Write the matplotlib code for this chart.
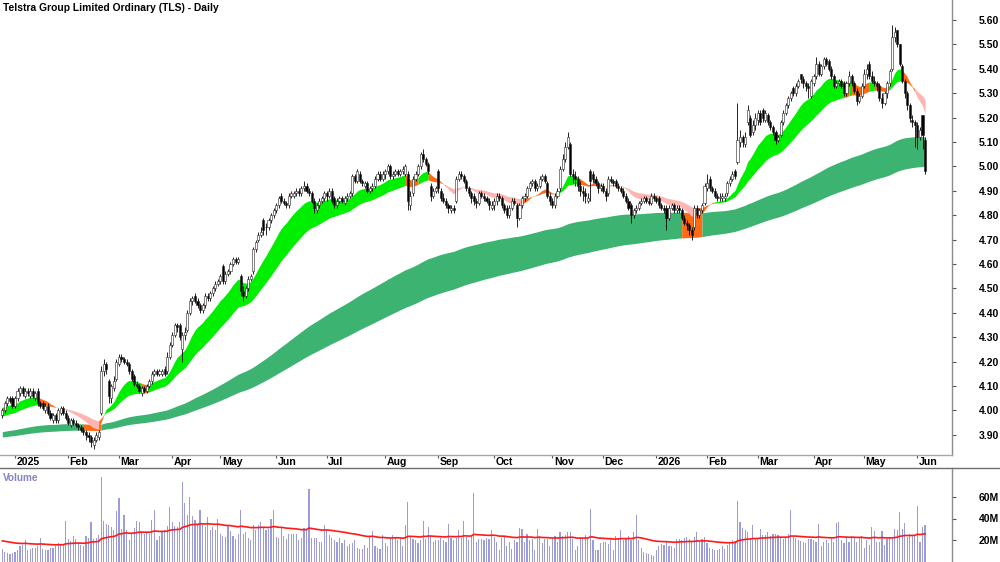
import numpy as np
import pandas as pd
import matplotlib
matplotlib.use("Agg")
import matplotlib.pyplot as plt
from matplotlib.lines import Line2D
from matplotlib.transforms import blended_transform_factory, ScaledTranslation

plt.rcParams['font.family'] = ['Liberation Sans', 'DejaVu Sans']

TITLE = "Telstra Group Limited Ordinary (TLS) - Daily"

# ---------------- trading calendar ----------------
holidays = ['2024-12-25', '2024-12-26', '2025-01-01', '2025-01-27', '2025-04-18',
            '2025-04-21', '2025-04-25', '2025-06-09', '2025-12-25', '2025-12-26',
            '2026-01-01', '2026-01-26', '2026-04-03', '2026-04-06']
all_days = pd.bdate_range('2024-12-23', '2026-06-04')
dates = all_days[~all_days.isin(pd.to_datetime(holidays))]

# ---------------- price data ----------------
open_ = [
    3.98, 4.00, 4.03, 4.05, 4.05,
    4.02, 4.05, 4.07, 4.09, 4.06, 4.08, 4.06, 4.08, 4.05, 4.08, 4.03, 4.03, 4.00, 4.02, 3.99, 3.96, 3.98, 3.96, 3.99, 4.01, 3.99,
    3.97, 3.94, 3.96, 3.95, 3.94, 3.93, 3.92, 3.91, 3.90, 3.89, 3.86, 3.88, 3.89, 3.99, 4.16, 4.19, 4.12, 4.05, 4.09, 4.13,
    4.19, 4.22, 4.21, 4.20, 4.19, 4.16, 4.14, 4.11, 4.10, 4.07, 4.09, 4.08, 4.10, 4.12, 4.15, 4.16, 4.15, 4.15, 4.17, 4.16, 4.22,
    4.27, 4.31, 4.35, 4.35, 4.25, 4.31, 4.33, 4.40, 4.45, 4.47, 4.45, 4.43, 4.41, 4.43, 4.47, 4.46, 4.48, 4.50, 4.52,
    4.53, 4.59, 4.53, 4.56, 4.57, 4.60, 4.62, 4.61, 4.55, 4.49, 4.47, 4.50, 4.54, 4.57, 4.66, 4.70, 4.72, 4.78, 4.75, 4.75, 4.78, 4.80,
    4.82, 4.84, 4.88, 4.86, 4.85, 4.84, 4.88, 4.88, 4.89, 4.90, 4.89, 4.91, 4.92, 4.90, 4.89, 4.86, 4.82, 4.84, 4.86, 4.87,
    4.89, 4.88, 4.90, 4.87, 4.84, 4.86, 4.87, 4.85, 4.87, 4.88, 4.89, 4.96, 4.94, 4.97, 4.94, 4.92, 4.93, 4.90, 4.91, 4.92, 4.95, 4.97, 4.95,
    4.97, 4.98, 5.00, 4.96, 4.97, 4.98, 4.97, 4.98, 4.97, 4.97, 4.84, 4.89, 4.95, 4.97, 5.00, 5.05, 5.03, 5.01, 4.92, 4.88, 4.90,
    4.98, 4.90, 4.87, 4.86, 4.84, 4.82, 4.83, 4.86, 4.95, 4.97, 4.96, 4.94, 4.91, 4.89, 4.88, 4.86, 4.85, 4.89, 4.88, 4.87, 4.86, 4.83,
    4.84, 4.86, 4.88, 4.87, 4.84, 4.83, 4.80, 4.83, 4.86, 4.84, 4.79, 4.84, 4.87, 4.88, 4.91, 4.93, 4.94, 4.91, 4.92, 4.95, 4.96, 4.93, 4.88,
    4.86, 4.84, 4.88, 4.91, 4.99, 5.03, 5.08, 5.09, 4.97, 4.96, 4.95, 4.92, 4.90, 4.89, 4.86, 4.98, 4.97, 4.95, 4.93, 4.91,
    4.92, 4.90, 4.89, 4.95, 4.94, 4.94, 4.92, 4.91, 4.90, 4.88, 4.86, 4.84, 4.80, 4.82, 4.83, 4.85, 4.86, 4.87, 4.86, 4.85, 4.88,
    4.87, 4.87, 4.84, 4.83, 4.83, 4.79, 4.83, 4.84, 4.82, 4.83, 4.82, 4.79, 4.77, 4.76, 4.74, 4.75, 4.83, 4.80, 4.82, 4.85,
    4.91, 4.95, 4.91, 4.90, 4.88, 4.87, 4.87, 4.87, 4.89, 4.93, 4.95, 4.98, 5.02, 5.10, 5.12, 5.09, 5.18, 5.20, 5.14, 5.17,
    5.19, 5.22, 5.23, 5.19, 5.21, 5.18, 5.16, 5.14, 5.11, 5.13, 5.18, 5.22, 5.25, 5.28, 5.32, 5.30, 5.33, 5.38, 5.36, 5.34, 5.33, 5.29,
    5.34, 5.37, 5.42, 5.38, 5.41, 5.44, 5.43, 5.40, 5.37, 5.33, 5.34, 5.35, 5.34, 5.30, 5.34, 5.37, 5.34, 5.31, 5.27, 5.29,
    5.33, 5.38, 5.42, 5.37, 5.35, 5.34, 5.33, 5.28, 5.26, 5.30, 5.34, 5.40, 5.53, 5.56, 5.50, 5.41, 5.35, 5.30, 5.25, 5.19, 5.18,
    5.17, 5.12, 5.21, 5.11,
]
high = [
    4.01, 4.04, 4.06, 4.06, 4.06,
    4.06, 4.09, 4.10, 4.10, 4.09, 4.09, 4.09, 4.09, 4.08, 4.09, 4.04, 4.04, 4.03, 4.03, 4.00, 3.99, 3.99, 4.01, 4.02, 4.02, 4.00,
    3.98, 3.97, 3.97, 3.96, 3.95, 3.94, 3.93, 3.92, 3.91, 3.90, 3.89, 3.91, 3.92, 4.18, 4.21, 4.20, 4.13, 4.11, 4.14, 4.21,
    4.23, 4.23, 4.22, 4.21, 4.20, 4.17, 4.15, 4.12, 4.11, 4.10, 4.10, 4.11, 4.13, 4.16, 4.17, 4.17, 4.17, 4.17, 4.18, 4.24, 4.28,
    4.32, 4.36, 4.36, 4.36, 4.32, 4.34, 4.41, 4.46, 4.47, 4.48, 4.46, 4.44, 4.44, 4.48, 4.48, 4.49, 4.51, 4.53, 4.54,
    4.56, 4.60, 4.57, 4.58, 4.61, 4.63, 4.63, 4.63, 4.56, 4.51, 4.51, 4.55, 4.56, 4.67, 4.70, 4.73, 4.75, 4.79, 4.77, 4.79, 4.81, 4.83,
    4.85, 4.88, 4.89, 4.87, 4.86, 4.89, 4.90, 4.90, 4.91, 4.91, 4.92, 4.94, 4.93, 4.91, 4.90, 4.87, 4.85, 4.87, 4.88, 4.90,
    4.90, 4.91, 4.91, 4.88, 4.87, 4.88, 4.88, 4.88, 4.89, 4.90, 4.97, 4.97, 4.99, 4.98, 4.95, 4.94, 4.94, 4.92, 4.93, 4.96, 4.98, 4.98, 4.98,
    4.99, 5.01, 5.01, 4.98, 4.99, 4.99, 4.99, 5.00, 5.01, 4.98, 4.90, 4.96, 4.98, 5.01, 5.06, 5.07, 5.04, 5.02, 4.93, 4.91, 4.92,
    4.99, 4.91, 4.89, 4.87, 4.85, 4.84, 4.84, 4.96, 4.98, 4.98, 4.97, 4.95, 4.92, 4.90, 4.89, 4.87, 4.90, 4.90, 4.89, 4.88, 4.87, 4.86,
    4.87, 4.89, 4.89, 4.88, 4.85, 4.84, 4.84, 4.87, 4.87, 4.85, 4.85, 4.88, 4.89, 4.92, 4.94, 4.95, 4.95, 4.93, 4.96, 4.97, 4.97, 4.94, 4.89,
    4.87, 4.89, 4.91, 5.00, 5.05, 5.10, 5.14, 5.10, 4.99, 4.98, 4.96, 4.94, 4.92, 4.91, 4.89, 4.99, 4.98, 4.96, 4.94, 4.93,
    4.93, 4.91, 4.96, 4.96, 4.95, 4.95, 4.93, 4.92, 4.91, 4.89, 4.87, 4.85, 4.83, 4.84, 4.86, 4.87, 4.88, 4.88, 4.87, 4.89, 4.89,
    4.88, 4.88, 4.85, 4.84, 4.84, 4.84, 4.85, 4.85, 4.84, 4.84, 4.83, 4.80, 4.78, 4.77, 4.75, 4.84, 4.84, 4.83, 4.85, 4.93,
    4.97, 4.96, 4.92, 4.91, 4.89, 4.89, 4.89, 4.89, 4.94, 4.96, 4.98, 4.99, 5.26, 5.15, 5.13, 5.14, 5.25, 5.21, 5.19, 5.22,
    5.23, 5.23, 5.24, 5.23, 5.22, 5.19, 5.17, 5.15, 5.13, 5.19, 5.23, 5.26, 5.29, 5.31, 5.33, 5.34, 5.36, 5.38, 5.37, 5.35, 5.34, 5.36,
    5.38, 5.45, 5.43, 5.42, 5.45, 5.45, 5.44, 5.41, 5.38, 5.35, 5.36, 5.36, 5.35, 5.35, 5.39, 5.38, 5.35, 5.32, 5.30, 5.34,
    5.40, 5.42, 5.43, 5.39, 5.37, 5.35, 5.34, 5.30, 5.31, 5.35, 5.40, 5.58, 5.57, 5.56, 5.50, 5.42, 5.36, 5.31, 5.26, 5.21, 5.19,
    5.18, 5.16, 5.21, 5.12,
]
low = [
    3.97, 3.99, 4.02, 4.03, 4.01,
    4.01, 4.04, 4.06, 4.06, 4.05, 4.06, 4.05, 4.05, 4.04, 4.02, 4.01, 4.00, 3.99, 3.98, 3.96, 3.95, 3.95, 3.95, 3.98, 3.98, 3.96,
    3.94, 3.93, 3.94, 3.93, 3.92, 3.91, 3.90, 3.88, 3.87, 3.85, 3.84, 3.87, 3.88, 3.98, 4.14, 4.15, 4.03, 4.03, 4.08, 4.12,
    4.18, 4.20, 4.19, 4.18, 4.15, 4.12, 4.10, 4.09, 4.07, 4.06, 4.07, 4.07, 4.09, 4.11, 4.14, 4.14, 4.14, 4.14, 4.14, 4.15, 4.21,
    4.26, 4.30, 4.32, 4.29, 4.20, 4.29, 4.32, 4.39, 4.43, 4.44, 4.42, 4.40, 4.40, 4.42, 4.45, 4.45, 4.47, 4.49, 4.51,
    4.52, 4.52, 4.52, 4.55, 4.56, 4.59, 4.60, 4.60, 4.47, 4.45, 4.46, 4.49, 4.53, 4.56, 4.65, 4.69, 4.71, 4.72, 4.72, 4.74, 4.77, 4.79,
    4.81, 4.83, 4.85, 4.84, 4.83, 4.83, 4.87, 4.87, 4.88, 4.88, 4.88, 4.90, 4.89, 4.88, 4.85, 4.81, 4.81, 4.83, 4.85, 4.86,
    4.86, 4.87, 4.85, 4.83, 4.83, 4.85, 4.85, 4.84, 4.86, 4.87, 4.88, 4.93, 4.93, 4.93, 4.92, 4.91, 4.89, 4.89, 4.90, 4.91, 4.94, 4.94, 4.94,
    4.95, 4.97, 4.95, 4.95, 4.96, 4.96, 4.96, 4.97, 4.96, 4.82, 4.82, 4.88, 4.94, 4.96, 4.99, 5.02, 5.00, 4.97, 4.86, 4.87, 4.89,
    4.89, 4.86, 4.85, 4.83, 4.81, 4.81, 4.81, 4.85, 4.94, 4.95, 4.93, 4.90, 4.88, 4.85, 4.84, 4.83, 4.84, 4.87, 4.86, 4.85, 4.82, 4.82,
    4.82, 4.84, 4.86, 4.83, 4.81, 4.79, 4.79, 4.82, 4.84, 4.75, 4.78, 4.83, 4.86, 4.87, 4.90, 4.92, 4.90, 4.90, 4.91, 4.94, 4.93, 4.87, 4.84,
    4.83, 4.83, 4.87, 4.90, 4.98, 5.02, 5.07, 4.96, 4.93, 4.92, 4.90, 4.88, 4.86, 4.85, 4.85, 4.86, 4.93, 4.92, 4.89, 4.90,
    4.89, 4.86, 4.88, 4.93, 4.92, 4.91, 4.90, 4.89, 4.87, 4.85, 4.82, 4.77, 4.79, 4.81, 4.82, 4.84, 4.85, 4.85, 4.84, 4.84, 4.86,
    4.85, 4.83, 4.82, 4.81, 4.74, 4.78, 4.82, 4.81, 4.81, 4.81, 4.78, 4.76, 4.74, 4.72, 4.70, 4.74, 4.79, 4.79, 4.81, 4.84,
    4.90, 4.90, 4.89, 4.87, 4.86, 4.86, 4.86, 4.86, 4.88, 4.92, 4.94, 4.95, 5.01, 5.08, 5.08, 5.08, 5.17, 5.12, 5.13, 5.15,
    5.17, 5.17, 5.18, 5.18, 5.17, 5.15, 5.13, 5.09, 5.10, 5.12, 5.17, 5.21, 5.24, 5.27, 5.29, 5.29, 5.32, 5.34, 5.32, 5.31, 5.28, 5.28,
    5.33, 5.36, 5.37, 5.37, 5.40, 5.41, 5.39, 5.36, 5.32, 5.32, 5.33, 5.32, 5.29, 5.29, 5.33, 5.33, 5.30, 5.25, 5.26, 5.28,
    5.32, 5.36, 5.36, 5.34, 5.33, 5.31, 5.27, 5.24, 5.25, 5.28, 5.33, 5.39, 5.51, 5.49, 5.41, 5.34, 5.28, 5.23, 5.18, 5.16, 5.08,
    5.07, 5.11, 5.07, 4.97,
]
close = [
    4.00, 4.03, 4.05, 4.04, 4.02,
    4.05, 4.08, 4.09, 4.07, 4.08, 4.07, 4.08, 4.06, 4.07, 4.03, 4.02, 4.01, 4.02, 3.99, 3.97, 3.98, 3.96, 4.00, 4.01, 3.99, 3.97,
    3.95, 3.96, 3.95, 3.94, 3.93, 3.92, 3.91, 3.90, 3.89, 3.87, 3.88, 3.90, 3.91, 4.16, 4.19, 4.17, 4.06, 4.10, 4.12, 4.20,
    4.22, 4.21, 4.20, 4.19, 4.16, 4.13, 4.11, 4.10, 4.08, 4.09, 4.08, 4.10, 4.12, 4.15, 4.16, 4.15, 4.16, 4.16, 4.15, 4.22, 4.27,
    4.31, 4.35, 4.34, 4.30, 4.31, 4.32, 4.40, 4.45, 4.46, 4.45, 4.43, 4.41, 4.43, 4.47, 4.46, 4.48, 4.50, 4.52, 4.53,
    4.55, 4.53, 4.56, 4.57, 4.60, 4.62, 4.61, 4.62, 4.49, 4.47, 4.50, 4.54, 4.55, 4.66, 4.69, 4.72, 4.73, 4.74, 4.75, 4.78, 4.80, 4.82,
    4.84, 4.87, 4.86, 4.85, 4.84, 4.88, 4.89, 4.89, 4.90, 4.89, 4.91, 4.92, 4.90, 4.89, 4.86, 4.83, 4.84, 4.86, 4.87, 4.89,
    4.88, 4.90, 4.86, 4.84, 4.86, 4.87, 4.86, 4.87, 4.88, 4.89, 4.96, 4.94, 4.98, 4.94, 4.93, 4.93, 4.90, 4.91, 4.92, 4.95, 4.97, 4.95, 4.97,
    4.98, 5.00, 4.96, 4.97, 4.98, 4.97, 4.98, 4.99, 5.00, 4.86, 4.88, 4.95, 4.97, 5.00, 5.05, 5.03, 5.01, 4.98, 4.88, 4.90, 4.91,
    4.91, 4.87, 4.86, 4.84, 4.83, 4.83, 4.82, 4.95, 4.97, 4.96, 4.94, 4.91, 4.89, 4.87, 4.86, 4.85, 4.89, 4.88, 4.87, 4.86, 4.84, 4.84,
    4.86, 4.88, 4.87, 4.84, 4.82, 4.80, 4.83, 4.86, 4.85, 4.79, 4.84, 4.87, 4.88, 4.91, 4.93, 4.94, 4.91, 4.92, 4.95, 4.96, 4.94, 4.88, 4.86,
    4.84, 4.88, 4.90, 4.99, 5.03, 5.08, 5.12, 4.97, 4.96, 4.95, 4.92, 4.90, 4.89, 4.88, 4.87, 4.94, 4.95, 4.93, 4.91, 4.92,
    4.90, 4.88, 4.95, 4.94, 4.93, 4.92, 4.91, 4.90, 4.88, 4.86, 4.83, 4.80, 4.82, 4.83, 4.85, 4.86, 4.87, 4.86, 4.85, 4.88, 4.87,
    4.86, 4.84, 4.83, 4.82, 4.79, 4.83, 4.84, 4.82, 4.83, 4.82, 4.79, 4.77, 4.76, 4.74, 4.72, 4.83, 4.80, 4.82, 4.84, 4.92,
    4.93, 4.91, 4.90, 4.88, 4.87, 4.87, 4.88, 4.88, 4.93, 4.95, 4.97, 4.96, 5.11, 5.12, 5.10, 5.12, 5.23, 5.13, 5.17, 5.20,
    5.22, 5.18, 5.20, 5.22, 5.18, 5.16, 5.14, 5.11, 5.12, 5.18, 5.22, 5.25, 5.28, 5.30, 5.30, 5.33, 5.35, 5.36, 5.34, 5.33, 5.32, 5.35,
    5.37, 5.42, 5.38, 5.41, 5.44, 5.42, 5.40, 5.37, 5.33, 5.34, 5.35, 5.33, 5.30, 5.34, 5.37, 5.34, 5.31, 5.27, 5.29, 5.33,
    5.38, 5.40, 5.37, 5.35, 5.34, 5.33, 5.28, 5.26, 5.30, 5.34, 5.39, 5.53, 5.55, 5.50, 5.42, 5.35, 5.30, 5.25, 5.20, 5.18, 5.17,
    5.12, 5.15, 5.13, 4.98,
]
# volume in millions of shares
volume = [
    12, 9, 8, 7, 8,
    9, 11, 14, 15, 20, 11, 12, 13, 13, 14, 22, 12, 11, 11, 13, 13, 14, 17, 16, 15, 38,
    21, 19, 24, 21, 17, 15, 14, 24, 22, 37, 21, 22, 25, 79, 38, 35, 34, 32, 29, 47,
    59, 30, 43, 29, 20, 26, 31, 38, 37, 28, 26, 27, 26, 39, 48, 20, 24, 28, 29, 33, 51,
    37, 33, 32, 37, 74, 54, 43, 60, 42, 39, 35, 48, 34, 32, 41, 29, 32, 29, 40,
    26, 24, 23, 33, 28, 24, 21, 26, 48, 26, 27, 22, 20, 34, 29, 34, 37, 32, 29, 30, 40, 48,
    23, 22, 31, 24, 21, 26, 26, 26, 26, 20, 22, 31, 29, 67, 22, 22, 22, 18, 18, 34,
    29, 25, 22, 20, 18, 22, 17, 20, 14, 16, 17, 20, 13, 12, 12, 15, 13, 23, 28, 14, 13, 12, 25,
    17, 14, 22, 25, 23, 20, 22, 14, 34, 55, 23, 21, 20, 17, 20, 38, 21, 32, 24, 18, 20,
    20, 22, 20, 18, 35, 22, 20, 22, 29, 22, 38, 23, 20, 25, 64, 18, 21, 21, 20, 22, 21, 29,
    23, 18, 11, 22, 23, 14, 18, 12, 20, 18, 31, 30, 18, 26, 20, 21, 11, 30, 24, 17, 21, 21, 14,
    21, 24, 18, 27, 24, 25, 27, 27, 21, 11, 14, 23, 21, 25, 21, 49, 20, 11, 11, 17,
    18, 18, 16, 22, 11, 24, 22, 29, 20, 22, 24, 20, 27, 43, 20, 13, 9, 8, 7, 6, 5,
    11, 14, 16, 15, 18, 14, 14, 13, 21, 21, 20, 22, 23, 21, 18, 23, 27, 18, 21, 23,
    17, 13, 12, 11, 11, 12, 14, 12, 15, 18, 20, 19, 56, 37, 31, 29, 27, 22, 34, 22,
    22, 30, 25, 25, 27, 24, 26, 26, 25, 22, 21, 23, 26, 48, 23, 22, 20, 19, 18, 17, 21, 21,
    20, 18, 35, 14, 18, 20, 17, 23, 18, 36, 37, 20, 17, 23, 18, 24, 22, 18, 23, 24,
    13, 20, 15, 32, 28, 18, 18, 28, 15, 21, 22, 23, 30, 29, 46, 30, 36, 23, 26, 25, 25,
    52, 18, 32, 34,
]

short_periods = (15, 35)
short_seeds = (4.015, 3.975)
long_periods = (150, 230)
long_seeds = (3.912, 3.890)
vol_ma_span = 50
vol_ma_seed = 19.5

# Band colour states (bar index ranges)
short_band_states = [
    (0, 14, 'up'), (14, 24, 'mixed'), (24, 38, 'down'), (38, 40, 'mixed'),
    (40, 55, 'up'), (55, 57, 'mixed'), (57, 159, 'up'), (159, 164, 'mixed'),
    (164, 168, 'up'), (168, 175, 'mixed'), (175, 205, 'down'), (205, 218, 'mixed'),
    (218, 227, 'up'), (227, 245, 'mixed'), (245, 275, 'down'), (275, 281, 'mixed'),
    (281, 332, 'up'), (332, 334, 'mixed'), (334, 335, 'up'), (335, 342, 'mixed'),
    (342, 344, 'up'), (344, 350, 'mixed'), (350, 355, 'up'), (355, 360, 'mixed'),
    (360, 364, 'down'),
]
long_band_states = [
    (0, 32, 'up'), (32, 39, 'mixed'), (39, 268, 'up'), (268, 276, 'mixed'), (276, 364, 'up'),
]

# ---------------- prepare ----------------
n = min(len(dates), len(open_), len(high), len(low), len(close), len(volume))
dates = dates[:n]
o = np.array(open_[:n]); h = np.array(high[:n]); l = np.array(low[:n]); c = np.array(close[:n])
v = np.array(volume[:n], dtype=float)
x = np.arange(n)


def ema(values, period, seed):
    a = 2.0 / (period + 1)
    out = np.empty(len(values))
    prev = seed
    for k, val in enumerate(values):
        prev = prev + a * (val - prev)
        out[k] = prev
    return out


s_fast = ema(c, short_periods[0], short_seeds[0])
s_slow = ema(c, short_periods[1], short_seeds[1])
l_fast = ema(c, long_periods[0], long_seeds[0])
l_slow = ema(c, long_periods[1], long_seeds[1])
vol_ma = ema(v, vol_ma_span, vol_ma_seed)

short_cols = {'up': '#00ee00', 'mixed': '#ff6a13', 'down': '#ffb4b0'}
long_cols = {'up': '#3cb371', 'mixed': '#ff6a13'}

# ---------------- figure ----------------
W, H = 1000, 562
fig = plt.figure(figsize=(W / 100, H / 100), dpi=100)
fig.patch.set_facecolor('white')

PR_RIGHT = 952
PR_BOTTOM = 455
VOL_TOP = 468

ax = fig.add_axes([0, 1 - PR_BOTTOM / H, PR_RIGHT / W, PR_BOTTOM / H])
axv = fig.add_axes([0, 0, PR_RIGHT / W, (H - VOL_TOP) / H], sharex=ax)

px_per_bar = 2.535
x0_px = 2.325
xlim = (-x0_px / px_per_bar, (PR_RIGHT - x0_px) / px_per_bar)
ax.set_xlim(*xlim)

# price scale: 5.60 at y=20px, 244 px per 1.00
ppu = 244.0
ax.set_ylim(5.60 - (PR_BOTTOM - 20) / ppu, 5.60 + 20 / ppu)

# bands
lo_s = np.minimum(s_fast, s_slow); hi_s = np.maximum(s_fast, s_slow)
lo_l = np.minimum(l_fast, l_slow); hi_l = np.maximum(l_fast, l_slow)
for s, e, st in long_band_states:
    e = min(e, n - 1)
    ax.fill_between(x[s:e + 1], lo_l[s:e + 1], hi_l[s:e + 1], color=long_cols[st], lw=0, zorder=1)
for s, e, st in short_band_states:
    e = min(e, n - 1)
    ax.fill_between(x[s:e + 1], lo_s[s:e + 1], hi_s[s:e + 1], color=short_cols[st], lw=0, zorder=1.5)

# candles
up = c >= o
ax.vlines(x, l, h, color='black', lw=0.6, zorder=3)
body_b = np.minimum(o, c)
body_h = np.maximum(np.abs(c - o), 0.003)
ax.bar(x, body_h, bottom=body_b, width=0.82,
       color=np.where(up, 'white', 'black'), edgecolor='#202020', linewidth=0.4, zorder=4)

# price axis styling
for side in ('left', 'top'):
    ax.spines[side].set_visible(False)
ax.spines['right'].set_color('#8c8c8c')
ax.spines['right'].set_linewidth(1.0)
ax.spines['bottom'].set_color('#a8a8a8')
ax.spines['bottom'].set_linewidth(1.0)
ax.yaxis.tick_right()
yt = np.round(np.arange(3.90, 5.601, 0.10), 2)
ax.set_yticks(yt)
ax.set_yticklabels([f"{t:.2f}" for t in yt], fontsize=7.5, fontweight='bold')
ax.tick_params(axis='y', length=3, width=0.8, color='#555555', pad=16.5)

# month ticks
month_pos, month_lab = [], []
prev_m = None
for k, d in enumerate(dates):
    if prev_m is not None and d.month != prev_m:
        month_pos.append(k)
        month_lab.append(str(d.year) if d.month == 1 else d.strftime('%b'))
    prev_m = d.month
ax.set_xticks(month_pos)
ax.tick_params(axis='x', direction='out', length=2, width=0.8, color='#555555', labelbottom=False)
trans = blended_transform_factory(ax.transData, ax.transAxes)
for p, lab in zip(month_pos, month_lab):
    ax.text(p, 0, lab, transform=trans + ScaledTranslation(1.5 / 100, -7.0 / 100, fig.dpi_scale_trans),
            ha='left', va='center', fontsize=7.6, fontweight='bold', color='black')

# volume
axv.bar(x, v, width=0.45, color='#9c9cd8', lw=0, zorder=2)
axv.plot(x, vol_ma, color='#ff1a1a', lw=1.2, zorder=3)
vppm = 1.075
axv.set_ylim((561.5 - H) / vppm, (561.5 - VOL_TOP) / vppm)
for side in ('left', 'bottom', 'top'):
    axv.spines[side].set_visible(False)
axv.spines['right'].set_color('#8c8c8c')
axv.spines['right'].set_linewidth(1.0)
axv.yaxis.tick_right()
axv.set_yticks([20, 40, 60])
axv.set_yticklabels(['20M', '40M', '60M'], fontsize=7.5, fontweight='bold')
axv.tick_params(axis='y', length=3, width=0.8, color='#555555', pad=16.5)
axv.tick_params(axis='x', length=0, labelbottom=False)

# full-width separator under the date row
fig.add_artist(Line2D([0, 1], [1 - VOL_TOP / H, 1 - VOL_TOP / H], transform=fig.transFigure,
                      color='#6e6e6e', lw=1.0))

fig.text(3 / W, 1 - 8 / H, TITLE, ha='left', va='center', fontsize=7.4, fontweight='bold', color='black')
fig.text(3 / W, 1 - 478 / H, 'Volume', ha='left', va='center', fontsize=7.2, fontweight='bold', color='#8484c4')

fig.savefig('out.png', dpi=100, facecolor='white')
